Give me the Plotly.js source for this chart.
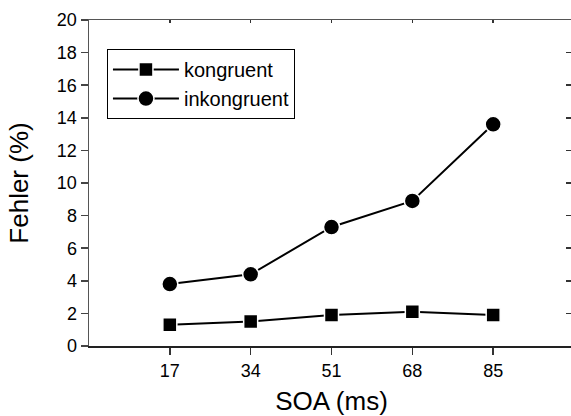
<!DOCTYPE html>
<html>
<head>
<meta charset="utf-8">
<script src="https://cdn.plot.ly/plotly-3.0.1.min.js"></script>
<style>
html,body{margin:0;padding:0;overflow:hidden;background:#fff;width:571px;height:416px;}
#chart{width:575px;height:416px;}
</style>
</head>
<body>
<div id="chart"></div>
<script>
const soa = [17, 34, 51, 68, 85];
const kongruent = [1.3, 1.5, 1.9, 2.1, 1.9];
const inkongruent = [3.8, 4.4, 7.3, 8.9, 13.6];
const yTicks = [0, 2, 4, 6, 8, 10, 12, 14, 16, 18, 20];

const font = 'Arial, "Liberation Sans", sans-serif';

const traces = [
  {
    x: soa, y: kongruent, name: 'kongruent', type: 'scatter', mode: 'lines+markers',
    line: {color: '#000', width: 2},
    marker: {symbol: 'square', size: 14, color: '#000', line: {color: '#fff', width: 1.5}}
  },
  {
    x: soa, y: inkongruent, name: 'inkongruent', type: 'scatter', mode: 'lines+markers',
    line: {color: '#000', width: 2},
    marker: {symbol: 'circle', size: 16, color: '#000', line: {color: '#fff', width: 1.5}}
  },
  {
    x: soa, y: kongruent, xaxis: 'x2', yaxis: 'y2', showlegend: false, hoverinfo: 'skip',
    mode: 'markers', marker: {opacity: 0}, type: 'scatter'
  }
];

const layout = {
  width: 575, height: 416,
  margin: {l: 89, r: 1, t: 20, b: 70},
  paper_bgcolor: '#fff', plot_bgcolor: '#fff',
  font: {family: font, color: '#000', size: 18},
  showlegend: true,
  legend: {
    x: 0.037, y: 0.911, xanchor: 'left', yanchor: 'top',
    bordercolor: '#000', borderwidth: 1, bgcolor: '#fff',
    font: {family: font, size: 20, color: '#000'},
    itemwidth: 66,
    tracegroupgap: 0
  },
  xaxis: {
    range: [0, 102], tickvals: soa, ticktext: soa.map(String),
    ticks: 'outside', ticklen: 7, tickwidth: 1.5, tickcolor: '#333',
    showline: true, linecolor: '#222', linewidth: 2,
    showgrid: false, zeroline: false,
    tickfont: {family: font, size: 18, color: '#000'},
    title: {text: 'SOA (ms)', font: {family: font, size: 26, color: '#000'}, standoff: 12}
  },
  yaxis: {
    range: [0, 20], tickvals: yTicks, ticktext: yTicks.map(String),
    ticks: 'outside', ticklen: 7, tickwidth: 1.5, tickcolor: '#444',
    showline: true, linecolor: '#555', linewidth: 1.5,
    showgrid: false, zeroline: false,
    tickfont: {family: font, size: 18, color: '#000'},
    title: {text: 'Fehler (%)', font: {family: font, size: 26, color: '#000'}, standoff: 21}
  },
  xaxis2: {
    overlaying: 'x', side: 'top', range: [0, 102], tickvals: soa,
    ticks: 'inside', ticklen: 3, tickwidth: 1.5, tickcolor: '#333',
    showline: true, linecolor: '#555', linewidth: 1.5,
    showticklabels: false, showgrid: false, zeroline: false
  },
  yaxis2: {
    overlaying: 'y', side: 'right', range: [0, 20], tickvals: yTicks,
    ticks: 'inside', ticklen: 8, tickwidth: 1.5, tickcolor: '#333',
    showline: true, linecolor: '#555', linewidth: 1.5,
    showticklabels: false, showgrid: false, zeroline: false
  }
};

Plotly.newPlot('chart', traces, layout, {staticPlot: true, displayModeBar: false});
</script>
</body>
</html>
